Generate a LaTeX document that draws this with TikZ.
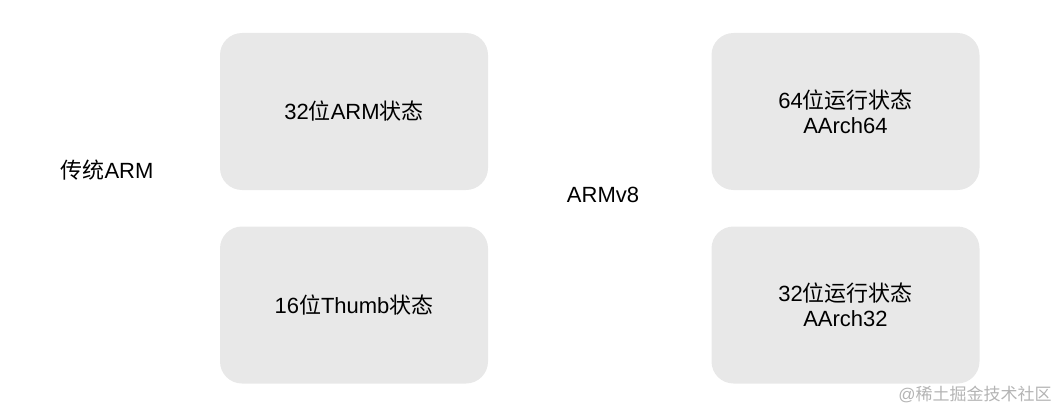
\documentclass[tikz,border=0pt]{standalone}
\usepackage{fontspec}
\setmainfont{Liberation Sans}
\newfontfamily\cjk{Noto Sans CJK SC}
\usepackage{xcolor}
\usepackage{tikz}
\usetikzlibrary{positioning}
\definecolor{boxgray}{HTML}{E8E8E8}
\definecolor{markgray}{HTML}{B4B4B4}

\begin{document}
\begin{tikzpicture}[x=1pt, y=-1pt,
    statebox/.style={fill=boxgray, draw=none, rounded corners=22pt,
                     minimum width=268pt, minimum height=157pt,
                     align=center, font=\fontsize{22}{25}\selectfont},
    plain/.style={font=\fontsize{22}{25}\selectfont}]
    \useasboundingbox (0,0) rectangle (1062,412);
    \node[statebox] (arm32) at (354,111.5) {32{\cjk 位}ARM{\cjk 状态}};
    \node[statebox] (thumb16) at (354,305) {16{\cjk 位}Thumb{\cjk 状态}};
    \node[statebox] (aarch64) at (845.5,111.5) {64{\cjk 位运行状态}\\AArch64};
    \node[statebox] (aarch32) at (845.5,305) {32{\cjk 位运行状态}\\AArch32};
    \node[plain] (oldarm) at (107,170) {{\cjk 传统}ARM};
    \node[plain] (armv8) at (603,195) {ARMv8};
    % watermark
    \node[font=\fontsize{17}{20}\selectfont, text=markgray] (mark) at (975,394) {@{\cjk 稀土掘金技术社区}};
\end{tikzpicture}
\end{document}
